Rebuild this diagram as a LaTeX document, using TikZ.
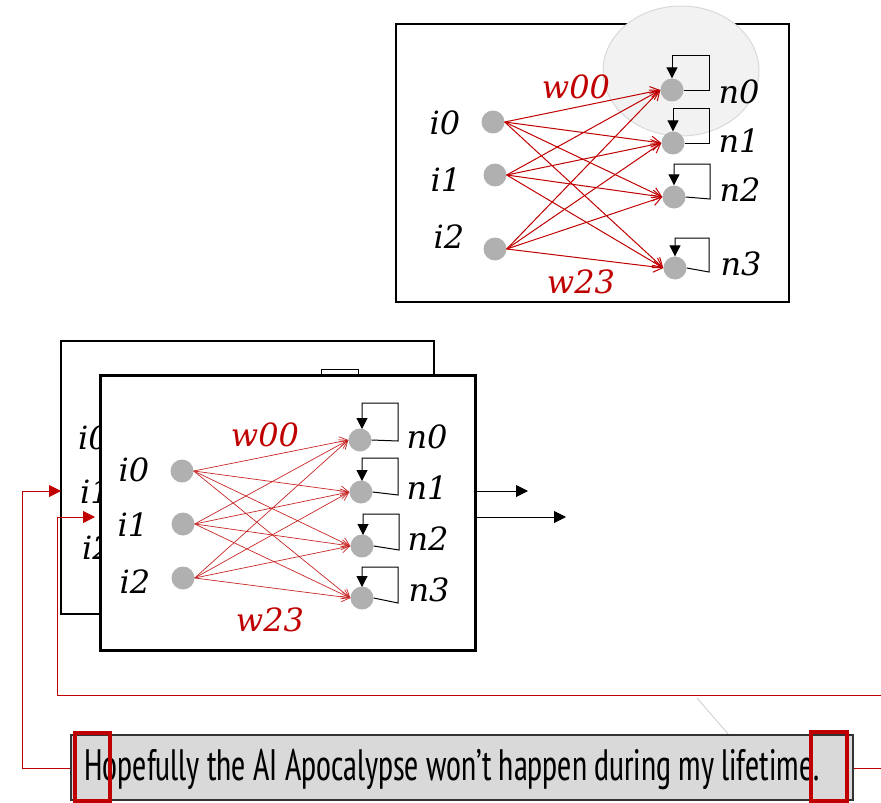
\documentclass[tikz,border=0pt]{standalone}
\usepackage{fontspec}
\setmainfont{DejaVu Serif}
\newfontfamily\handfont{PT Sans Narrow}
\usetikzlibrary{arrows.meta}
\definecolor{wred}{HTML}{C00000}
\begin{document}
\begin{tikzpicture}[x=1pt,y=-1pt,
  neuron/.style={circle, fill=gray!62, inner sep=0pt, minimum size=23pt},
  lbl/.style={font=\fontsize{32}{34}\selectfont\itshape, inner sep=0pt},
  wlbl/.style={lbl, text=wred},
  wire/.style={wred, line width=1pt, -{Straight Barb[length=9pt,width=11pt]}},
  fwire/.style={wred!85, line width=0.7pt, -{Straight Barb[length=8pt,width=10pt]}},
  selfloop/.style={line width=1pt, -{Triangle[length=11pt,width=11pt]}},
  blackarrow/.style={line width=1pt, -{Triangle[length=12pt,width=12pt]}},
  conn/.style={wred, line width=1pt},
  connarrow/.style={conn, -{Triangle[length=12pt,width=12pt]}},
  redmark/.style={draw=wred, line width=4pt},
  ]
\useasboundingbox (0,0) rectangle (881,803);

% ---------------- top box ----------------
\draw[line width=1.5pt] (396,24) rectangle (789,302);
\filldraw[fill=gray!10, draw=gray!30, line width=1pt] (681,71) ellipse [x radius=78pt, y radius=65pt];

\node[neuron] (ti0) at (493,122) {};
\node[neuron] (ti1) at (495,175) {};
\node[neuron] (ti2) at (495,249) {};
\node[neuron] (tn0) at (672,90) {};
\node[neuron] (tn1) at (673,143) {};
\node[neuron] (tn2) at (674,197) {};
\node[neuron] (tn3) at (675,268) {};

\node[lbl] (tli0) at (445,123) {i0};
\node[lbl] (tli1) at (446,180) {i1};
\node[lbl] (tli2) at (449,237) {i2};
\node[lbl] (tln0) at (739,92) {n0};
\node[lbl] (tln1) at (739,141) {n1};
\node[lbl] (tln2) at (740,190) {n2};
\node[lbl] (tln3) at (741,264) {n3};
\node[wlbl] (tw00) at (576,87) {w00};
\node[wlbl] (tw23) at (581,282) {w23};

\foreach \i in {0,1,2}{
  \foreach \j in {0,1,2,3}{
    \draw[wire] (ti\i.east) -- (tn\j.west);
  }
}
\draw[selfloop] (tn0.east) -- (709,90) -- (709,55) -- (672,55) -- (tn0.north);
\draw[selfloop] (tn1.east) -- (709,143) -- (709,108) -- (673,108) -- (tn1.north);
\draw[selfloop] (tn2.east) -- (710,199) -- (710,164) -- (674,164) -- (tn2.north);
\draw[selfloop] (tn3.east) -- (709,272) -- (709,238) -- (675,238) -- (tn3.north);

% ---------------- back box ----------------
\draw[line width=2pt] (61,341) rectangle (434,614);
\draw[line width=1pt] (321,378) -- (321,369) -- (358,369) -- (358,378);
\node[lbl, anchor=west] (bli0) at (78,438) {i0};
\node[lbl, anchor=west] (bli1) at (80,492) {i1};
\node[lbl, anchor=west] (bli2) at (82,548) {i2};

\coordinate (out1) at (528,491);
\coordinate (out2) at (566,517);
\draw[blackarrow] (470,491) -- (out1);
\draw[blackarrow] (470,517) -- (out2);

% ---------------- front box ----------------
\filldraw[fill=white, line width=3pt] (100,375) rectangle (475,650);

\node[neuron] (fi0) at (182,471) {};
\node[neuron] (fi1) at (183,524) {};
\node[neuron] (fi2) at (183,578) {};
\node[neuron] (fn0) at (360,440) {};
\node[neuron] (fn1) at (361,492) {};
\node[neuron] (fn2) at (362,546) {};
\node[neuron] (fn3) at (362,598) {};

\node[lbl] (fli0) at (134,470) {i0};
\node[lbl] (fli1) at (133,525) {i1};
\node[lbl] (fli2) at (135,582) {i2};
\node[lbl] (fln0) at (427,437) {n0};
\node[lbl] (fln1) at (427,488) {n1};
\node[lbl] (fln2) at (428,539) {n2};
\node[lbl] (fln3) at (429,590) {n3};
\node[wlbl] (fw00) at (265,435) {w00};
\node[wlbl] (fw23) at (270,620) {w23};

\foreach \i in {0,1,2}{
  \foreach \j in {0,1,2,3}{
    \draw[fwire] (fi\i.east) -- (fn\j.west);
  }
}
\draw[selfloop] (fn0.east) -- (398,441) -- (398,403) -- (362,403) -- (362,429);
\draw[selfloop] (fn1.east) -- (398,495) -- (398,458) -- (362,458) -- (362,481);
\draw[selfloop] (fn2.east) -- (399,550) -- (399,514) -- (363,514) -- (363,535);
\draw[selfloop] (fn3.east) -- (398,603) -- (398,567) -- (362,567) -- (362,587);

% ---------------- bottom ----------------
\draw[gray!40, line width=0.8pt] (697,698) -- (729,735);

\node[draw=black!80, fill=gray!30, line width=1.2pt, minimum width=782pt, minimum height=65pt, inner sep=0pt] (tb) at (462,767.5) {};
\node[inner sep=0pt] (msg) at (452,770) {\resizebox{735pt}{\height}{\handfont\fontsize{44}{48}\selectfont Hopefully the AI Apocalypse won’t happen during my lifetime.}};
\draw[redmark] (75,733) rectangle (110,801);
\draw[redmark] (811,732) rectangle (847,801);

\coordinate (bbin) at (61,491);
\coordinate (fbin) at (95,517);
\coordinate (rtop) at (881,695);
\coordinate (rbot) at (881,768);
\draw[connarrow] (tb.west |- 0,768) -- (22,768) -- (22,491) -- (bbin);
\draw[connarrow] (rtop) -- (57,695) -- (57,517) -- (fbin);
\draw[conn] (tb.east |- 0,768) -- (rbot);
\end{tikzpicture}
\end{document}
